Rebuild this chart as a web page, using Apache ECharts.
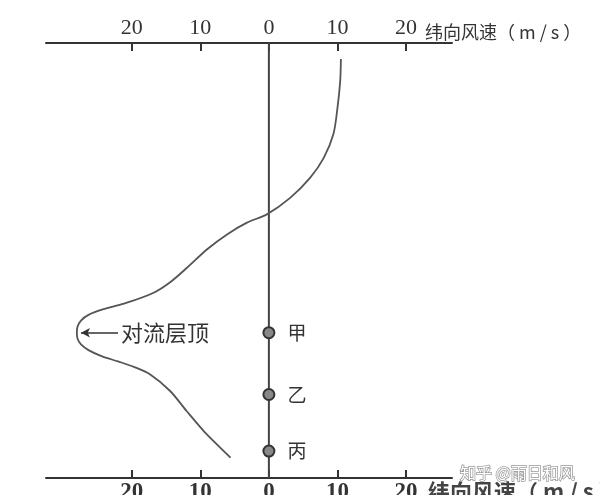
<!DOCTYPE html>
<html><head><meta charset="utf-8">
<script src="https://cdn.jsdelivr.net/npm/echarts@6/dist/echarts.min.js"></script>
<style>html,body{margin:0;padding:0;background:#fff;}#c{width:600px;height:495px;}</style>
</head><body><div id="c"></div>
<script>
// tick labels on the wind-speed axes (m/s), shown as absolute values
const tickValues = [-20, -10, 0, 10, 20];
// zonal wind speed profile: [wind speed (m/s), relative altitude]
const windSpeed = [10.5, 10.4, 10.0, 9.4, 8.0, 6.0, 3.1, -0.3, -3.2, -6.1, -9.0, -11.9, -14.4, -16.8, -20.7, -24.1, -26.3, -27.4, -27.9, -28.0, -27.9, -27.4, -26.3, -24.4, -22.0, -19.6, -17.3, -14.4, -12.0, -9.5, -7.1, -5.6];
const altitude  = [96.3, 91.3, 85.1, 79.0, 73.6, 69.0, 64.4, 60.6, 58.7, 56.0, 52.6, 48.4, 45.0, 42.6, 40.3, 38.8, 37.5, 36.2, 34.8, 33.4, 32.0, 30.7, 29.4, 28.0, 26.8, 25.5, 23.8, 20.0, 15.4, 10.8, 7.0, 4.7];
// observation points on the zero line
const pointNames = ['甲', '乙', '丙'];
const pointAltitude = [33.4, 19.2, 6.2];
const tropopauseAltitude = 33.4;
const axisName = '纬向风速（ m / s ）';

const curve = windSpeed.map((v, i) => [v, altitude[i]]);
const pts = pointNames.map((n, i) => [0, pointAltitude[i], n]);

const chart = echarts.init(document.getElementById('c'), null, {renderer: 'canvas'});
const axisCommon = {
  type: 'value', min: -32.5, max: 26.7,
  splitLine: {show: false},
  axisLine: {show: true, onZero: false, lineStyle: {color: '#333', width: 2}},
  axisTick: {show: true, inside: true, length: 8, customValues: tickValues, lineStyle: {color: '#333', width: 2}},
};
chart.setOption({
  backgroundColor: '#fff',
  animation: false,
  title: {
    text: '知乎 @雨日和风', left: 455, top: 460,
    textStyle: {fontSize: 16, fontWeight: 'normal', color: '#fff', textBorderColor: '#999', textBorderWidth: 1.5, fontFamily: 'Noto Sans CJK SC'}
  },
  grid: {left: 46, right: 148, top: 43, bottom: 17, outerBoundsMode: 'none', containLabel: false},
  xAxis: [
    Object.assign({}, axisCommon, {
      position: 'top',
      axisLabel: {customValues: tickValues, formatter: v => String(Math.abs(v)), margin: 4, fontSize: 22, color: '#333', fontFamily: 'Liberation Serif'},
      name: axisName, nameLocation: 'end', nameGap: -27,
      nameTextStyle: {fontSize: 18, color: '#333', fontFamily: 'Noto Sans CJK SC', verticalAlign: 'bottom', align: 'left', padding: [0, 0, 2, 0]}
    }),
    Object.assign({}, axisCommon, {
      position: 'bottom',
      axisLabel: {customValues: tickValues, formatter: v => String(Math.abs(v)), margin: 3, fontSize: 23, fontWeight: 'bold', color: '#333', fontFamily: 'Liberation Serif'},
      name: axisName, nameLocation: 'end', nameGap: -24,
      nameTextStyle: {fontSize: 22, fontWeight: 'bold', color: '#444', fontFamily: 'Noto Sans CJK SC', verticalAlign: 'top', align: 'left', padding: [3, 0, 0, 0]}
    })
  ],
  yAxis: {type: 'value', min: 0, max: 100, show: false},
  series: [
    {
      type: 'line', xAxisIndex: 0, data: [[0, 0], [0, 100]], symbol: 'none',
      lineStyle: {color: '#444', width: 2}, silent: true, z: 2
    },
    {
      type: 'line', xAxisIndex: 0, data: curve, smooth: 0.3, symbol: 'none',
      lineStyle: {color: '#555', width: 1.8}, z: 3,
      markLine: {
        silent: true, symbol: ['arrow', 'none'], symbolSize: [7, 9],
        lineStyle: {color: '#333', width: 1.5, type: 'solid'},
        label: {show: true, position: 'end', formatter: '对流层顶', fontSize: 22, color: '#333', fontFamily: 'Noto Sans CJK SC', distance: 3},
        data: [[{coord: [-27.4, tropopauseAltitude]}, {coord: [-22.0, tropopauseAltitude]}]]
      }
    },
    {
      type: 'scatter', xAxisIndex: 0, data: pts, symbolSize: 11,
      itemStyle: {color: '#888', borderColor: '#333', borderWidth: 2, opacity: 1}, z: 5,
      label: {show: true, position: 'right', distance: 12, formatter: p => p.data[2], fontSize: 19, color: '#333', fontFamily: 'Noto Sans CJK SC'}
    }
  ]
});
</script></body></html>
